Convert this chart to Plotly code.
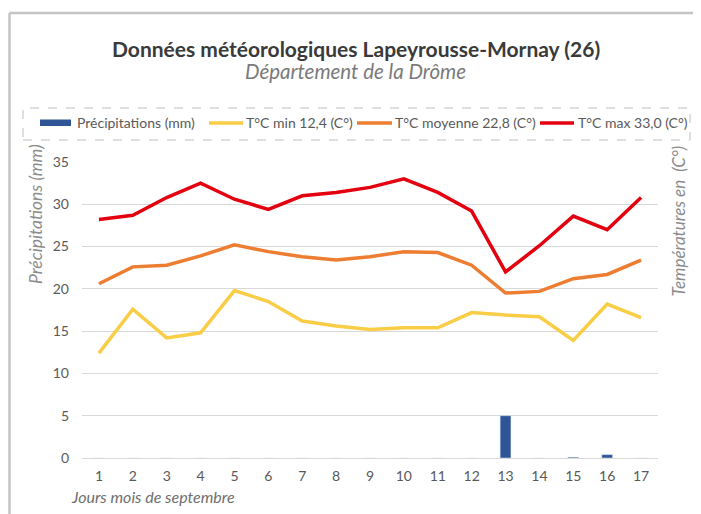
import plotly.graph_objects as go

# ---- data ----
days = [str(d) for d in range(1, 18)]
precip_mm = [0, 0, 0, 0, 0, 0, 0, 0, 0, 0, 0, 0, 5.0, 0, 0.1, 0.4, 0]
t_min = [12.4, 17.6, 14.2, 14.8, 19.8, 18.5, 16.2, 15.6, 15.2, 15.4, 15.4, 17.2, 16.9, 16.7, 13.9, 18.2, 16.6]
t_moy = [20.6, 22.6, 22.8, 23.9, 25.2, 24.4, 23.8, 23.4, 23.8, 24.4, 24.3, 22.8, 19.5, 19.7, 21.2, 21.7, 23.4]
t_max = [28.2, 28.7, 30.8, 32.5, 30.6, 29.4, 31.0, 31.4, 32.0, 33.0, 31.4, 29.2, 22.0, 25.1, 28.6, 27.0, 30.8]
y_ticks = [0, 5, 10, 15, 20, 25, 30, 35]

title = "Données météorologiques Lapeyrousse-Mornay (26)"
subtitle = "Département de la Drôme"
legend_labels = ["Précipitations (mm)", "T°C min 12,4 (C°)", "T°C moyenne 22,8 (C°)", "T°C max 33,0 (C°)"]

C_BLUE = "#2F5597"
C_YEL = "#F9CD46"
C_ORA = "#ED7D31"
C_RED = "#E3000F"
FONT = "Lato, 'Open Sans', sans-serif"
GRAY = "#595959"

OFF = 8  # page offset of the figure (body margin)
W, H = 693, 506
# plot area in page coords: x 82..658, y 162..458
ML, MT = 82 - OFF, 162 - OFF
MR, MB = W - (658 - OFF), H - (458 - OFF)
PW, PH = W - ML - MR, H - MT - MB


def xp(px):  # page x -> paper
    return (px - OFF - ML) / PW


def yp(py):  # page y -> paper
    return (H - MB - (py - OFF)) / PH


fig = go.Figure()
fig.add_trace(go.Bar(x=days, y=precip_mm, marker_color=C_BLUE, width=0.32,
                     name=legend_labels[0], showlegend=False))
for vals, col, name in [(t_min, C_YEL, legend_labels[1]),
                        (t_moy, C_ORA, legend_labels[2]),
                        (t_max, C_RED, legend_labels[3])]:
    fig.add_trace(go.Scatter(x=days, y=vals, mode="lines", yaxis="y2",
                             line=dict(color=col, width=3.5), name=name, showlegend=False))

shapes = []
# outer border (left, top, right)
shapes.append(dict(type="line", xref="paper", yref="paper", x0=xp(9.5), x1=xp(9.5),
                   y0=yp(13), y1=yp(530), line=dict(color="#c4c4c4", width=2.5)))
shapes.append(dict(type="line", xref="paper", yref="paper", x0=xp(9.5), x1=xp(705),
                   y0=yp(13), y1=yp(13), line=dict(color="#c4c4c4", width=2.5)))
shapes.append(dict(type="line", xref="paper", yref="paper", x0=xp(699.5), x1=xp(699.5),
                   y0=yp(13), y1=yp(530), line=dict(color="#ececec", width=1)))
# legend dashed box
shapes.append(dict(type="rect", xref="paper", yref="paper", x0=xp(23), x1=xp(690),
                   y0=yp(140), y1=yp(108), line=dict(color="#c0c0c0", width=1, dash="dash")))
# legend swatches
shapes.append(dict(type="rect", xref="paper", yref="paper", x0=xp(40), x1=xp(71),
                   y0=yp(126), y1=yp(119.5), fillcolor=C_BLUE, line=dict(width=0)))
for (a, b), col in [((209, 243), C_YEL), ((357, 392), C_ORA), ((540, 574), C_RED)]:
    shapes.append(dict(type="line", xref="paper", yref="paper", x0=xp(a), x1=xp(b),
                       y0=yp(123), y1=yp(123), line=dict(color=col, width=3.5)))

annotations = [
    dict(text=f"<b>{title}</b>", x=xp(356), y=yp(49), xref="paper", yref="paper",
         showarrow=False, xanchor="center", yanchor="middle",
         font=dict(family=FONT, size=21, color="#3a3a3a")),
    dict(text=f"<i>{subtitle}</i>", x=xp(355.5), y=yp(71), xref="paper", yref="paper",
         showarrow=False, xanchor="center", yanchor="middle",
         font=dict(family=FONT, size=20.5, color="#7a7a7a")),
    dict(text="<i>Précipitations (mm)</i>", x=xp(35), y=yp(214), xref="paper", yref="paper",
         showarrow=False, textangle=-90, xanchor="center", yanchor="middle",
         font=dict(family=FONT, size=17.5, color="#8c8c8c")),
    dict(text="<i>Températures en \u00a0(C°)</i>", x=xp(678), y=yp(221.5), xref="paper", yref="paper",
         showarrow=False, textangle=-90, xanchor="center", yanchor="middle",
         font=dict(family=FONT, size=17, color="#8c8c8c")),
    dict(text="<i>Jours mois de septembre</i>", x=xp(152.5), y=yp(496), xref="paper", yref="paper",
         showarrow=False, xanchor="center", yanchor="middle",
         font=dict(family=FONT, size=16, color="#6e6e6e")),
]
for px, lab in [(75, legend_labels[0]), (244, legend_labels[1]),
                (393, legend_labels[2]), (576, legend_labels[3])]:
    annotations.append(dict(text=lab, x=xp(px), y=yp(123), xref="paper", yref="paper",
                            showarrow=False, xanchor="left", yanchor="middle",
                            font=dict(family=FONT, size=14, color=GRAY)))

fig.update_layout(
    width=W, height=H,
    margin=dict(l=ML, r=MR, t=MT, b=MB),
    paper_bgcolor="white", plot_bgcolor="white",
    showlegend=False,
    font=dict(family=FONT, size=14, color=GRAY),
    xaxis=dict(type="category", showgrid=False, ticks="", showline=False, zeroline=False,
               tickfont=dict(size=14, color=GRAY), ticklabelstandoff=8),
    yaxis=dict(range=[0, 35], tickvals=y_ticks, showgrid=True, gridcolor="#d9d9d9", gridwidth=1,
               zeroline=True, zerolinecolor="#d9d9d9", zerolinewidth=1, showline=False, ticks="",
               tickfont=dict(size=14, color=GRAY), ticklabelstandoff=12),
    yaxis2=dict(range=[0, 35], overlaying="y", side="right", showgrid=False, zeroline=False,
                showticklabels=False, ticks="", showline=False),
    shapes=shapes,
    annotations=annotations,
)

fig.write_html("out.html")
